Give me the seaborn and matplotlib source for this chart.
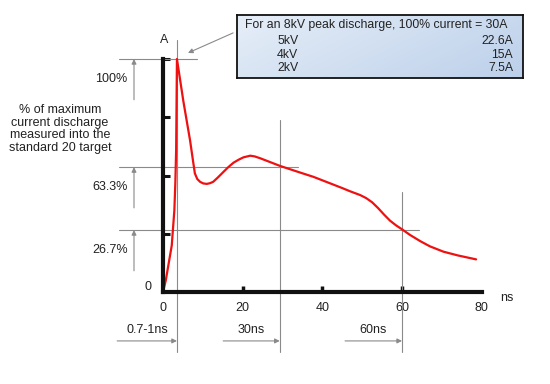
import numpy as np
import seaborn as sns
import matplotlib
matplotlib.use("Agg")
import matplotlib.pyplot as plt
from matplotlib.colors import LinearSegmentedColormap

### Data:

# ESD current waveform (ns, % of peak)
time_ns = [0, 0.7, 1.4, 2.2, 2.5, 2.85, 3.1, 3.3, 3.5, 5.1, 6.8, 7.5, 8.0, 8.6,
           9.3, 10.1, 11.0, 11.8, 12.6, 13.8, 15.2, 16.4, 17.7, 19.0, 20.2,
           21.9, 23.0, 24.4, 29.4, 34.0, 37.8, 42.0, 45.0, 47.0, 49.5, 51.0,
           52.5, 54.0, 55.5, 57.0, 58.5, 60.0, 62.0, 64.6, 67.0, 70.4, 74.0, 78.6]
current_pct = [0, 5, 12, 20, 27, 35, 47, 61, 100, 82, 65, 56.7, 50.9, 48.5,
               47.3, 46.6, 46.4, 46.7, 47.3, 49.2, 51.6, 53.6, 55.5, 56.8, 57.8,
               58.5, 58.2, 57.4, 54.1, 51.5, 49.4, 46.6, 44.6, 43.2, 41.6, 40.3,
               38.5, 36.0, 33.2, 30.6, 28.6, 26.9, 24.5, 21.8, 19.6, 17.3, 15.7, 14.0]

x_ticks = [0, 20, 40, 60, 80]
y_marks = [25, 50, 75, 100]

# horizontal guide levels (label, drawn height, right end)
level_labels = ["100%", "63.3%", "26.7%"]
level_y = [100, 53.6, 26.6]
level_x_end = [8.5, 33.9, 64.3]

# vertical guide times (label, position, top end, arrow start)
time_labels = ["0.7-1ns", "30ns", "60ns"]
time_x = [3.5, 29.3, 60]
time_y_top = [108, 73.8, 42.9]
time_arrow_start = [-11.5, 15.1, 45.7]

box_title = "For an 8kV peak discharge, 100% current = 30A"
box_rows = ["5kV", "4kV", "2kV"]
box_vals = ["22.6A", "15A", "7.5A"]


### Plot:
sns.set_style("white")
plt.rcParams["font.family"] = ["Liberation Sans", "DejaVu Sans"]

grey = "#8a8a8a"
ink = "#222222"
fs = 9

fig = plt.figure(figsize=(5.5, 3.84), dpi=100)
ax = fig.add_axes([163 / 550, 92 / 384, 318.7 / 550, 233 / 384])

sns.lineplot(x=time_ns, y=current_pct, color="#ee1111", linewidth=1.6, ax=ax)
ax.lines[-1].set_clip_on(False)
ax.lines[-1].set_zorder(5)

ax.set_xlim(0, 80)
ax.set_ylim(0, 100)
sns.despine(ax=ax)
for s in ["left", "bottom"]:
    ax.spines[s].set_linewidth(3)
    ax.spines[s].set_color("#111111")
    ax.spines[s].set_zorder(6)

# labels on major ticks, little marks on minor ticks (keep the ones that overlap)
ax.xaxis.remove_overlapping_locs = False
ax.set_xticks(x_ticks)
ax.set_xticklabels([str(t) for t in x_ticks])
ax.set_yticks([])
ax.set_xticks([20, 40, 60], minor=True)
ax.set_yticks(y_marks, minor=True)
ax.tick_params(axis="x", which="major", bottom=True, length=0, pad=7, labelsize=fs, labelcolor=ink)
ax.tick_params(axis="x", which="minor", bottom=True, direction="in", length=4, width=2.5, color="#111111")
ax.tick_params(axis="y", which="minor", left=True, direction="in", length=5, width=2.2, color="#111111")

ax.text(-3.8, 2.1, "0", ha="center", va="center", fontsize=fs, color=ink)
ax.text(0.25, 108.2, "A", ha="center", va="center", fontsize=fs, color=ink)
ax.text(86.3, -2.6, "ns", ha="center", va="center", fontsize=fs, color=ink)
ax.text(-25.85, 70, "% of maximum\ncurrent discharge\nmeasured into the\nstandard 20 target",
        ha="center", va="center", fontsize=fs, linespacing=1.05, color=ink)

arrow = dict(arrowstyle="-|>", color=grey, lw=0.8, mutation_scale=7, shrinkA=0, shrinkB=0)

# level guides with upward arrows
for lab, y, xe in zip(level_labels, level_y, level_x_end):
    ax.plot([-11.04, xe], [y, y], color=grey, lw=0.8, clip_on=False, zorder=2)
    ax.annotate("", xy=(-7.28, y), xytext=(-7.28, y - 17.5),
                arrowprops=arrow, annotation_clip=False)
    ax.text(-8.9, y - 8.4, lab, ha="right", va="center", fontsize=fs, color=ink)

# time guides with right arrows
for lab, x, yt, xs in zip(time_labels, time_x, time_y_top, time_arrow_start):
    ax.plot([x, x], [-25.75, yt], color=grey, lw=0.8, clip_on=False, zorder=2)
    ax.annotate("", xy=(x, -21.0), xytext=(xs, -21.0),
                arrowprops=arrow, annotation_clip=False)
    ax.text((xs + x) / 2, -16.3, lab, ha="center", va="center", fontsize=fs, color=ink)

# pointer from the box to the peak
ax.annotate("", xy=(6.27, 102.6), xytext=(17.6, 111.2),
            arrowprops=arrow, annotation_clip=False)

# info box with blue gradient
bax = fig.add_axes([237 / 550, (384 - 78) / 384, 286 / 550, 63 / 384])
gx, gy = np.meshgrid(np.linspace(0, 1, 200), np.linspace(0, 1, 60))
cmap = LinearSegmentedColormap.from_list("box", ["#e6eef8", "#bcd0ea"])
bax.imshow(gx * 0.7 + gy * 0.3, cmap=cmap, extent=[0, 1, 0, 1], aspect="auto", origin="upper")
bax.set_xticks([])
bax.set_yticks([])
for s in bax.spines.values():
    s.set_linewidth(1.3)
    s.set_color("#111111")

bax.text(0.028, 0.84, box_title, ha="left", va="center", fontsize=8.8, color=ink)
for row, val, yy in zip(box_rows, box_vals, [0.58, 0.37, 0.16]):
    bax.text(0.14, yy, row, ha="left", va="center", fontsize=8.8, color=ink)
    bax.text(0.965, yy, val, ha="right", va="center", fontsize=8.8, color=ink)

plt.savefig("out.png", dpi=100)
